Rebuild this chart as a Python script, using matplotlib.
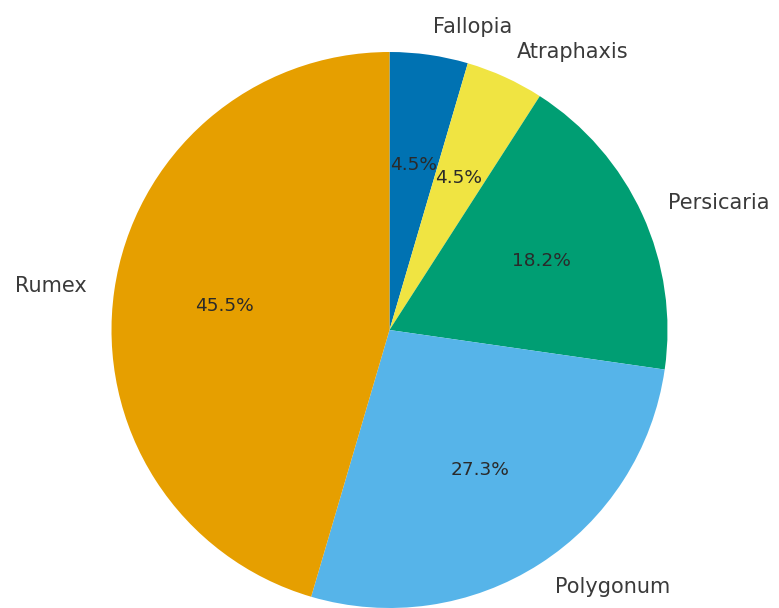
import matplotlib
matplotlib.use("Agg")
import matplotlib.pyplot as plt

genera = ["Fallopia", "Atraphaxis", "Persicaria", "Polygonum", "Rumex"]
counts = [1, 1, 4, 6, 10]
colors = ["#0072B2", "#F0E442", "#009E73", "#56B4E9", "#E69F00"]

fig = plt.figure(figsize=(7.79, 6.08), dpi=100)
ax = fig.add_axes([42/779, -69.5/608, 695/779, 695/608])
wedges, texts, autotexts = ax.pie(
    counts, labels=genera, colors=colors, autopct="%1.1f%%",
    startangle=90, counterclock=False,
    textprops={"fontsize": 15, "color": "#3a3a3a"},
)
for t in autotexts:
    t.set_fontsize(13.3)
    t.set_color("#2a2a2a")
ax.set_aspect("equal")
fig.savefig("out.png", dpi=100)
